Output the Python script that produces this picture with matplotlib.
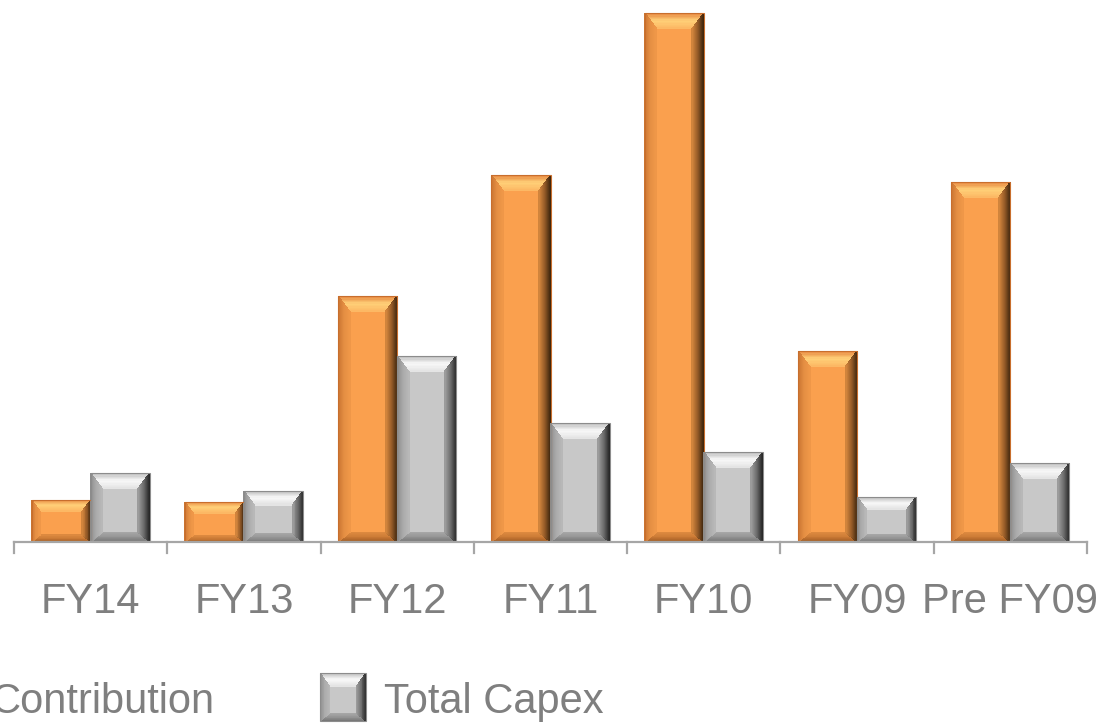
import matplotlib
matplotlib.use('Agg')
import matplotlib.pyplot as plt
import numpy as np
from matplotlib.patches import Polygon, Rectangle
from matplotlib.transforms import IdentityTransform, blended_transform_factory

plt.rcParams['font.family'] = ['Liberation Sans', 'DejaVu Sans']

categories = ['FY14', 'FY13', 'FY12', 'FY11', 'FY10', 'FY09', 'Pre FY09']
contribution = [42, 40, 246, 367, 529, 191, 360]
capex = [69, 51, 186, 119, 90, 45, 79]

orange = {'base': (250, 160, 78), 'edge': (200, 110, 45),
          'top': [(228, 128, 58), (255, 208, 120), (252, 182, 98)],
          'right': [(50, 30, 10), (145, 88, 38), (215, 136, 62)],
          'left': [(200, 115, 48), (228, 142, 66), (240, 152, 72)],
          'bottom': [(150, 84, 30), (200, 120, 52), (222, 138, 64)]}
grey = {'base': (200, 200, 200), 'edge': (140, 140, 140),
        'top': [(185, 185, 185), (248, 248, 248), (226, 226, 226)],
        'right': [(30, 30, 30), (105, 105, 105), (160, 160, 160)],
        'left': [(138, 138, 138), (170, 170, 170), (185, 185, 185)],
        'bottom': [(110, 110, 110), (145, 145, 145), (168, 168, 168)]}


def rgb(c):
    return tuple(v / 255 for v in c)


def ramp(stops, t):
    # piecewise linear colour ramp across the bevel depth
    pos = np.linspace(0, 1, len(stops))
    return tuple(np.interp(t, pos, [s[i] for s in stops]) / 255 for i in range(3))


def bevel(target, X0, Y0, X1, Y1, style, top=16, side=12, bottom=10, n=12):
    # bevelled box in display pixels; inner face shrinks for small boxes
    f = min(1.0, 0.45 * (Y1 - Y0) / (top + bottom), 0.5 * (X1 - X0) / (2 * side))
    dt, ds, db = top * f, side * f, bottom * f
    target.add_artist(Rectangle((X0, Y0), X1 - X0, Y1 - Y0, transform=IdentityTransform(),
                                facecolor=rgb(style['base']), edgecolor='none', zorder=3))

    def ring(s):
        return X0 + s * ds, Y0 + s * db, X1 - s * ds, Y1 - s * dt

    for k in range(n):
        a0, b0, a1, b1 = ring(k / n)
        c0, e0, c1, e1 = ring((k + 1) / n)
        tm = (k + 0.5) / n
        faces = {
            'top': [(a0, b1), (a1, b1), (c1, e1), (c0, e1)],
            'bottom': [(a0, b0), (a1, b0), (c1, e0), (c0, e0)],
            'left': [(a0, b0), (a0, b1), (c0, e1), (c0, e0)],
            'right': [(a1, b1), (a1, b0), (c1, e0), (c1, e1)],
        }
        for face, pts in faces.items():
            target.add_artist(Polygon(pts, closed=True, transform=IdentityTransform(),
                                      facecolor=ramp(style[face], tm), edgecolor='none',
                                      antialiased=False, zorder=4))
    target.add_artist(Rectangle((X0, Y0), X1 - X0, Y1 - Y0, transform=IdentityTransform(),
                                facecolor='none', edgecolor=rgb(style['edge']), lw=0.8, zorder=5))


fig = plt.figure(figsize=(11.02, 7.23), dpi=100)
ax = fig.add_axes([14 / 1102, 181 / 723, 1073 / 1102, 542 / 723])

x = np.arange(len(categories))
w = 0.385
bars_c = ax.bar(x - w / 2, contribution, w, color=rgb(orange['base']), zorder=2)
bars_t = ax.bar(x + w / 2, capex, w, color=rgb(grey['base']), zorder=2)

ax.set_xlim(-0.5, len(categories) - 0.5)
ax.set_ylim(0, 542)
ax.axis('off')

fig.canvas.draw()
for bars, style in ((bars_c, orange), (bars_t, grey)):
    for b in bars:
        bb = b.get_window_extent()
        bevel(ax, bb.x0, bb.y0, bb.x1, bb.y1, style)

# baseline and category separators
axis_col = '#a6a6a6'
ax.axhline(0, color=axis_col, lw=1.6, zorder=6, clip_on=False)
sep = blended_transform_factory(ax.transData, IdentityTransform())
for b in np.arange(len(categories) + 1) - 0.5:
    ax.plot([b, b], [181, 170], color=axis_col, lw=1.6, transform=sep, clip_on=False)

lab = blended_transform_factory(ax.transData, fig.transFigure)
for xi, name in zip(x, categories):
    ax.text(xi, 110 / 723, name, transform=lab, ha='center', va='baseline',
            fontsize=30, color='#7f7f7f')

# legend along the bottom edge
fig.text(215 / 1102, 10 / 723, 'Contribution', ha='right', va='baseline',
         fontsize=30, color='#7f7f7f')
bevel(fig, 320, 2, 366, 50, grey, top=14, side=10, bottom=8)
fig.text(384 / 1102, 10 / 723, 'Total Capex', ha='left', va='baseline',
         fontsize=30, color='#7f7f7f')

fig.savefig('out.png', dpi=100)
